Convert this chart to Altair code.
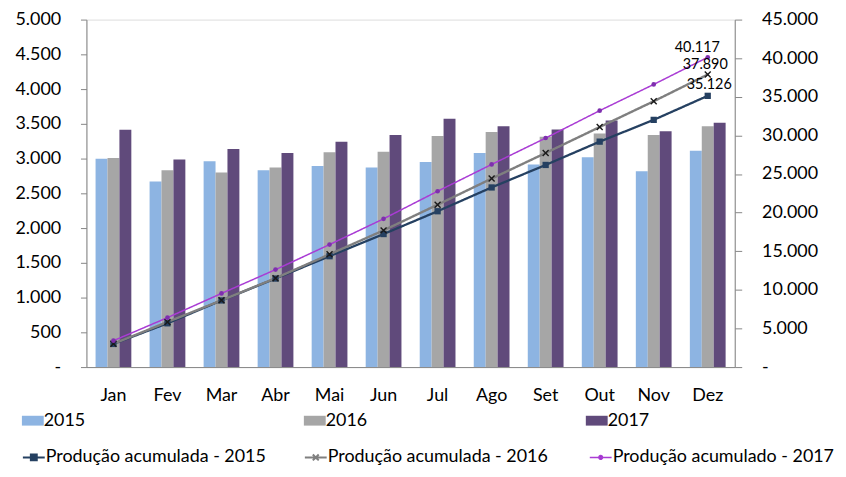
import altair as alt
import pandas as pd

months = ["Jan", "Fev", "Mar", "Abr", "Mai", "Jun", "Jul", "Ago", "Set", "Out", "Nov", "Dez"]
years = ["2015", "2016", "2017"]
prod_2015 = [2996, 2671, 2962, 2833, 2895, 2871, 2952, 3081, 2914, 3019, 2818, 3114]
prod_2016 = [3010, 2833, 2800, 2871, 3090, 3100, 3324, 3381, 3314, 3362, 3338, 3467]
prod_2017 = [3416, 2986, 3138, 3081, 3243, 3338, 3572, 3467, 3419, 3548, 3395, 3514]
line_names = ["Produção acumulada - 2015", "Produção acumulada - 2016", "Produção acumulado - 2017"]
left_ticks = list(range(0, 5001, 500))
right_ticks = list(range(0, 45001, 5000))

bar_colors = ["#8DB4E2", "#A6A6A6", "#604A7B"]
line_colors = ["#254061", "#7F7F7F", "#A93BD4"]
marker_colors = ["#254061", "#1A1A1A", "#7E2FAE"]

rows = []
for y, vals, ln in zip(years, [prod_2015, prod_2016, prod_2017], line_names):
    for i, (m, v) in enumerate(zip(months, vals)):
        rows.append({"mes": m, "idx": i, "ano": y, "valor": v, "serie_linha": ln})
df = pd.DataFrame(rows)

FONT = "Lato"
LEG_COMMON = dict(orient="none", title=None, padding=0, symbolSize=484, labelFont=FONT,
                  labelFontSize=18, labelColor="#000000", labelOffset=0, labelLimit=400)

x_enc = alt.X("mes:N", sort=months, title=None,
              scale=alt.Scale(paddingInner=0.338, paddingOuter=0.169),
              axis=alt.Axis(labelAngle=0, ticks=False, labelPadding=20, labelFont=FONT,
                            labelFontSize=18, labelColor="#000000", domainColor="#868686",
                            domainWidth=1))

left_axis = alt.Axis(values=left_ticks, orient="left", grid=False, tickSize=6, labelPadding=20,
                     labelFont=FONT, labelFontSize=18, labelColor="#000000",
                     domainColor="#868686", tickColor="#868686", title=None,
                     labelExpr="datum.value == 0 ? '-\u00a0\u00a0\u00a0' : replace(format(datum.value, ','), ',', '.')")
right_axis = alt.Axis(values=right_ticks, orient="right", grid=False, tickSize=7, labelPadding=20,
                      labelFont=FONT, labelFontSize=18, labelColor="#000000",
                      domainColor="#868686", tickColor="#868686", title=None,
                      labelExpr="datum.value == 0 ? '\u00a0-' : replace(format(datum.value, ','), ',', '.')")

bars = alt.Chart(df).mark_bar().encode(
    x=x_enc,
    xOffset=alt.XOffset("ano:N", sort=years, scale=alt.Scale(paddingInner=0, paddingOuter=0)),
    y=alt.Y("valor:Q", scale=alt.Scale(domain=[0, 5000]), axis=left_axis),
    color=alt.Color("ano:N", scale=alt.Scale(domain=years, range=bar_colors),
                    legend=alt.Legend(legendX=-65, legendY=393, columns=3, columnPadding=220,
                                      symbolType="M-1,-0.45H1V0.45H-1Z", symbolStrokeWidth=0,
                                      **LEG_COMMON)),
)

cum_base = alt.Chart(df).transform_window(
    acum="sum(valor)", frame=[None, 0], sort=[{"field": "idx"}], groupby=["serie_linha"]
).transform_calculate(
    rotulo="replace(format(datum.acum, ','), ',', '.')"
)
y_cum = alt.Y("acum:Q", scale=alt.Scale(domain=[0, 45000]), axis=right_axis)

def only(ln):
    return f"datum.serie_linha == '{ln}'"

leg_y2 = 429
leg_x = [-65, 219, 506]
leg_shapes = ["M-1,0H1M-0.27,-0.27H0.27V0.27H-0.27Z",
              "M-1,0H1M-0.27,-0.27L0.27,0.27M-0.27,0.27L0.27,-0.27",
              "M-1,0H1M-0.17,0A0.17,0.17,0,1,1,0.17,0A0.17,0.17,0,1,1,-0.17,0Z"]
leg_fill = [line_colors[0], "transparent", marker_colors[2]]
line_widths = [2.3, 2.4, 1.5]

line_layers = []
for k in range(3):
    line_layers.append(cum_base.mark_line(color=line_colors[k], strokeWidth=line_widths[k]).encode(
        x=x_enc, y=y_cum, order="idx:Q",
        strokeDash=alt.StrokeDash("serie_linha:N",
                                  scale=alt.Scale(domain=[line_names[k]], range=[[1, 0]]),
                                  legend=alt.Legend(legendX=leg_x[k], legendY=leg_y2,
                                                    symbolType=leg_shapes[k],
                                                    symbolStrokeColor=line_colors[k],
                                                    symbolFillColor=leg_fill[k],
                                                    symbolStrokeWidth=min(line_widths[k], 2),
                                                    **LEG_COMMON)),
    ).transform_filter(only(line_names[k])))

pts15 = cum_base.mark_square(size=40, color=marker_colors[0], opacity=1).encode(
    x=x_enc, y=y_cum).transform_filter(only(line_names[0]))
pts16 = cum_base.mark_point(shape="M-1,-1L1,1M-1,1L1,-1", size=36, strokeWidth=1.4,
                            color=marker_colors[1], filled=False, opacity=1).encode(
    x=x_enc, y=y_cum).transform_filter(only(line_names[1]))
pts17 = cum_base.mark_circle(size=22, color=marker_colors[2], opacity=1).encode(
    x=x_enc, y=y_cum).transform_filter(only(line_names[2]))

label_offsets = [(1.5, -11), (-2.5, -10), (-10.5, -9)]
texts = []
for ln, (dx, dy) in zip(line_names, label_offsets):
    texts.append(cum_base.mark_text(font=FONT, fontSize=14.5, color="#000000", dx=dx, dy=dy,
                                    baseline="middle", align="center").encode(
        x=x_enc, y=y_cum, text="rotulo:N"
    ).transform_filter(f"{only(ln)} && datum.idx == 11"))

right_layer = alt.layer(*line_layers, pts15, pts16, pts17, *texts).resolve_scale(strokeDash="independent")

chart = alt.layer(bars, right_layer).resolve_scale(y="independent").properties(
    width=653, height=350,
    padding={"left": 79, "top": 10, "right": 104, "bottom": 102},
    autosize=alt.AutoSizeParams(type="none"),
).configure_view(stroke=None).configure(font=FONT)

chart.save("out.html", embed_options={"renderer": "svg", "actions": False})
